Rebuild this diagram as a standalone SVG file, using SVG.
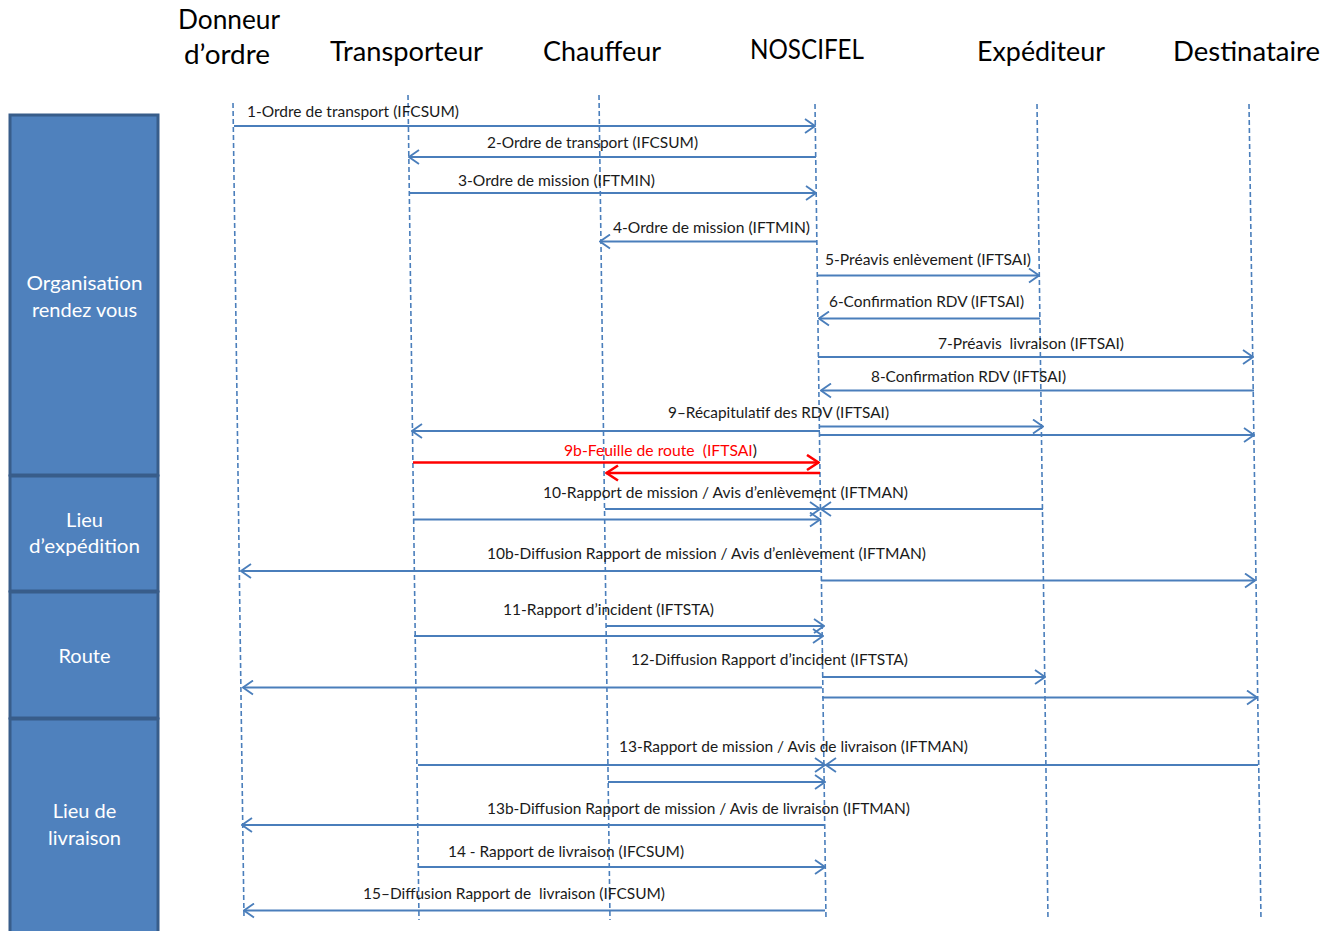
<svg xmlns="http://www.w3.org/2000/svg" width="1340" height="931" viewBox="0 0 1340 931">
<style>
.hdr{font-family:Lato,"Open Sans","Liberation Sans",sans-serif;font-size:26px;fill:#000;text-anchor:middle}
.lbl{font-family:Lato,"Open Sans","Liberation Sans",sans-serif;font-size:15px;fill:#1a1a1a;white-space:pre}
.red{fill:#ff0000}
.box{fill:#4F81BD;stroke:#385D8A;stroke-width:3}
.btxt{font-family:Lato,"Open Sans","Liberation Sans",sans-serif;font-size:20px;fill:#fff;text-anchor:middle}
.life{stroke:#4A7EBB;stroke-width:1.6;stroke-dasharray:5 3;fill:none}
.msg{stroke:#4A7EBB;stroke-width:1.8;fill:none;marker-end:url(#ah)}
.rmsg{stroke:#ff0000;stroke-width:2.5;fill:none;marker-end:url(#rah)}
</style>
<defs>
<marker id="ah" viewBox="0 0 12 16" refX="11" refY="8" markerWidth="12" markerHeight="16" markerUnits="userSpaceOnUse" orient="auto">
<path d="M1,1 L11,8 L1,15" fill="none" stroke="#4A7EBB" stroke-width="1.8"/>
</marker>
<marker id="rah" viewBox="0 0 14 18" refX="13" refY="9" markerWidth="14" markerHeight="18" markerUnits="userSpaceOnUse" orient="auto">
<path d="M1,1.5 L12.5,9 L1,16.5" fill="none" stroke="#ff0000" stroke-width="2.6"/>
</marker>
</defs>
<rect width="1340" height="931" fill="#fff"/>

<g id="phase-organisation">
<rect class="box" x="10" y="115" width="148" height="360"/>
<text class="btxt" x="84.5" y="290" textLength="116" lengthAdjust="spacingAndGlyphs">Organisation</text>
<text class="btxt" x="84.5" y="317">rendez vous</text>
</g>
<g id="phase-expedition">
<rect class="box" x="10" y="476" width="148" height="115"/>
<text class="btxt" x="84.5" y="527">Lieu</text>
<text class="btxt" x="84.5" y="553" textLength="111" lengthAdjust="spacingAndGlyphs">d’expédition</text>
</g>
<g id="phase-route">
<rect class="box" x="10" y="592" width="148" height="126"/>
<text class="btxt" x="84.5" y="663">Route</text>
</g>
<g id="phase-livraison">
<rect class="box" x="10" y="719" width="148" height="215"/>
<text class="btxt" x="84.5" y="818">Lieu de</text>
<text class="btxt" x="84.5" y="845">livraison</text>
</g>

<g id="actor-donneur">
<text class="hdr" x="229" y="29" textLength="102" lengthAdjust="spacingAndGlyphs">Donneur</text>
<text class="hdr" x="227" y="64" textLength="86" lengthAdjust="spacingAndGlyphs">d’ordre</text>
<line class="life" x1="233" y1="103" x2="244" y2="918"/>
</g>
<g id="actor-transporteur">
<text class="hdr" x="406.5" y="61" textLength="153" lengthAdjust="spacingAndGlyphs">Transporteur</text>
<line class="life" x1="408" y1="95" x2="419" y2="920"/>
</g>
<g id="actor-chauffeur">
<text class="hdr" x="602" y="61" textLength="118" lengthAdjust="spacingAndGlyphs">Chauffeur</text>
<line class="life" x1="599" y1="95" x2="610" y2="920"/>
</g>
<g id="actor-noscifel">
<text class="hdr" x="807" y="59" textLength="114" lengthAdjust="spacingAndGlyphs">NOSCIFEL</text>
<line class="life" x1="815" y1="104" x2="826" y2="920"/>
</g>
<g id="actor-expediteur">
<text class="hdr" x="1041" y="61" textLength="128" lengthAdjust="spacingAndGlyphs">Expéditeur</text>
<line class="life" x1="1037" y1="104" x2="1048" y2="920"/>
</g>
<g id="actor-destinataire">
<text class="hdr" x="1246.5" y="61" textLength="147" lengthAdjust="spacingAndGlyphs">Destinataire</text>
<line class="life" x1="1249" y1="104" x2="1261" y2="920"/>
</g>

<g id="connectors">
<path class="msg" d="M234,126 H815"/>
<path class="msg" d="M816,157 H409"/>
<path class="msg" d="M409,193 H816"/>
<path class="msg" d="M817,241.5 H600"/>
<path class="msg" d="M817,275.5 H1039"/>
<path class="msg" d="M1040,318.5 H819"/>
<path class="msg" d="M818,357 H1253"/>
<path class="msg" d="M1254,390.5 H821"/>
<path class="msg" d="M820,431 H412"/>
<path class="msg" d="M820,426.5 H1043"/>
<path class="msg" d="M820,435 H1254"/>
<path class="rmsg" d="M413,462.5 H819"/>
<path class="rmsg" d="M820,473 H606"/>
<path class="msg" d="M605,509 H820"/>
<path class="msg" d="M1043,509 H821"/>
<path class="msg" d="M413,519.5 H820"/>
<path class="msg" d="M821,571 H241"/>
<path class="msg" d="M821,580.5 H1255"/>
<path class="msg" d="M606,626 H824"/>
<path class="msg" d="M414,636 H823"/>
<path class="msg" d="M822,677 H1045"/>
<path class="msg" d="M822,687.5 H243"/>
<path class="msg" d="M822,697.5 H1257"/>
<path class="msg" d="M418,765 H825"/>
<path class="msg" d="M1258,765 H826"/>
<path class="msg" d="M608,782 H825"/>
<path class="msg" d="M824,825 H242"/>
<path class="msg" d="M418,867 H825"/>
<path class="msg" d="M825,910.5 H244"/>
</g>

<g id="labels">
<text class="lbl" x="247" y="117" textLength="212" lengthAdjust="spacingAndGlyphs">1-Ordre de transport (IFCSUM)</text>
<text class="lbl" x="487" y="148" textLength="211" lengthAdjust="spacingAndGlyphs">2-Ordre de transport (IFCSUM)</text>
<text class="lbl" x="458" y="186" textLength="197" lengthAdjust="spacingAndGlyphs">3-Ordre de mission (IFTMIN)</text>
<text class="lbl" x="613" y="233" textLength="197" lengthAdjust="spacingAndGlyphs">4-Ordre de mission (IFTMIN)</text>
<text class="lbl" x="825" y="265" textLength="206" lengthAdjust="spacingAndGlyphs">5-Préavis enlèvement (IFTSAI)</text>
<text class="lbl" x="829" y="307" textLength="195" lengthAdjust="spacingAndGlyphs">6-Confirmation RDV (IFTSAI)</text>
<text class="lbl" x="938" y="349" textLength="186" lengthAdjust="spacingAndGlyphs" xml:space="preserve">7-Préavis  livraison (IFTSAI)</text>
<text class="lbl" x="871" y="382" textLength="195" lengthAdjust="spacingAndGlyphs">8-Confirmation RDV (IFTSAI)</text>
<text class="lbl" x="668" y="418" textLength="221" lengthAdjust="spacingAndGlyphs">9–Récapitulatif des RDV (IFTSAI)</text>
<text class="lbl" x="564" y="456" textLength="193" lengthAdjust="spacingAndGlyphs" xml:space="preserve"><tspan class="red">9b-Feuille de route  (IFTSAI</tspan>)</text>
<text class="lbl" x="543" y="498" textLength="365" lengthAdjust="spacingAndGlyphs">10-Rapport de mission / Avis d’enlèvement (IFTMAN)</text>
<text class="lbl" x="487" y="559" textLength="439" lengthAdjust="spacingAndGlyphs">10b-Diffusion Rapport de mission / Avis d’enlèvement (IFTMAN)</text>
<text class="lbl" x="503" y="615" textLength="211" lengthAdjust="spacingAndGlyphs">11-Rapport d’incident (IFTSTA)</text>
<text class="lbl" x="631" y="665" textLength="277" lengthAdjust="spacingAndGlyphs">12-Diffusion Rapport d’incident (IFTSTA)</text>
<text class="lbl" x="619" y="752" textLength="349" lengthAdjust="spacingAndGlyphs">13-Rapport de mission / Avis de livraison (IFTMAN)</text>
<text class="lbl" x="487" y="814" textLength="423" lengthAdjust="spacingAndGlyphs">13b-Diffusion Rapport de mission / Avis de livraison (IFTMAN)</text>
<text class="lbl" x="448" y="857" textLength="236" lengthAdjust="spacingAndGlyphs">14 - Rapport de livraison (IFCSUM)</text>
<text class="lbl" x="363" y="899" textLength="302" lengthAdjust="spacingAndGlyphs" xml:space="preserve">15–Diffusion Rapport de  livraison (IFCSUM)</text>
</g>
</svg>
